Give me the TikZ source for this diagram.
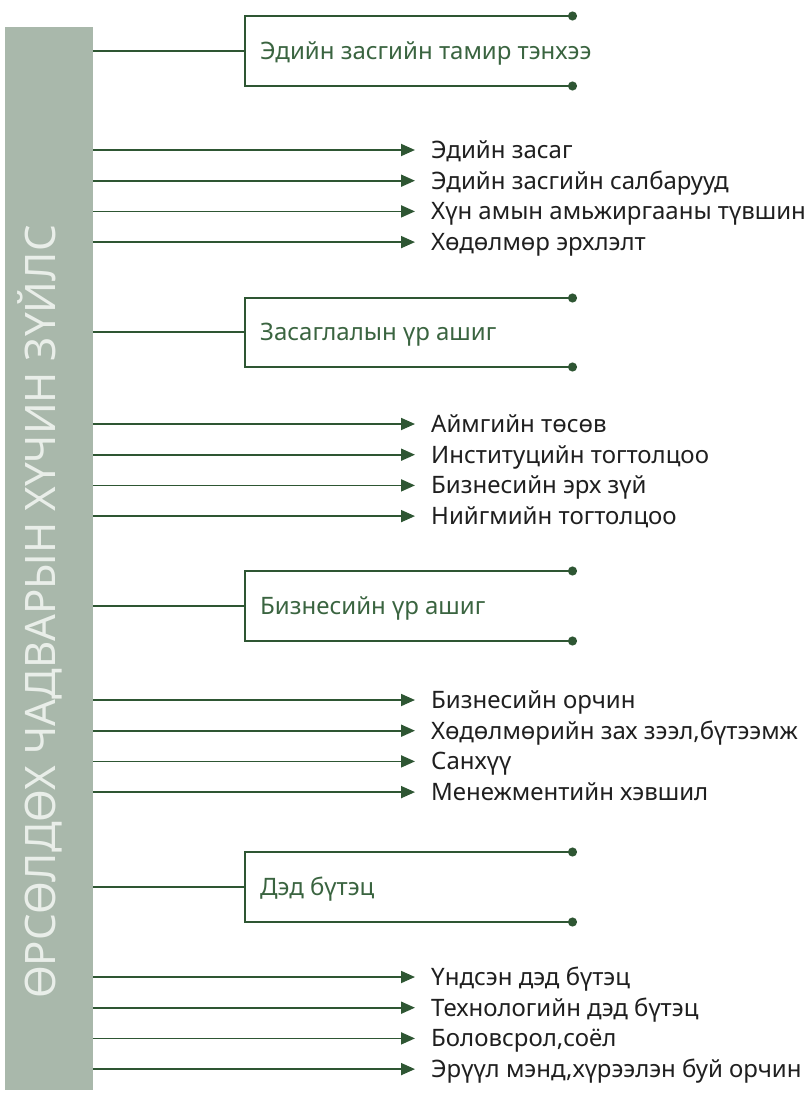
\documentclass[tikz,border=0pt]{standalone}
\usepackage{fontspec}
\setmainfont{Noto Sans}
\usepackage{xcolor}
\usepackage{tikz}
\usetikzlibrary{arrows.meta, positioning}
\definecolor{sage}{HTML}{A9B8AB}
\definecolor{darkgreen}{HTML}{2E5633}
\definecolor{headgreen}{HTML}{3A6440}
\definecolor{palegreen}{HTML}{E9EEE9}

\begin{document}
\begin{tikzpicture}[
    x=1pt, y=1pt,
    node distance=30.7pt,
    bar/.style={rectangle, fill=sage, minimum width=88pt, minimum height=1063pt, inner sep=0pt},
    bartext/.style={text=palegreen, font=\fontsize{42}{44}\selectfont, rotate=90, inner sep=0pt},
    head/.style={text=headgreen, font=\fontsize{24}{28}\selectfont, inner xsep=15pt, inner ysep=0pt, text height=17pt, text depth=0pt, anchor=west},
    item/.style={text=black!88, font=\fontsize{24}{28}\selectfont, inner xsep=16pt, inner ysep=0pt, text height=17pt, text depth=0pt, anchor=west},
    stem/.style={darkgreen, line width=2pt},
    arrow/.style={-{Triangle[length=14pt, width=12pt]}, darkgreen, line width=1.8pt},
    bracket/.style={{Circle[length=9pt]}-{Circle[length=9pt]}, darkgreen, line width=1.8pt}
]
    \useasboundingbox (0,0) rectangle (804,-1097);

    \node[bar] (bar) at (49,-558.5) {};
    \node[bartext, anchor=base] (title) at (55,-612) {ӨРСӨЛДӨХ ЧАДВАРЫН ХҮЧИН ЗҮЙЛС};

    \node[head] (econ) at (245,-51) {Эдийн засгийн тамир тэнхээ};
    \coordinate (econtop) at (577,-16);
    \coordinate (econbot) at (577,-86);
    \node[item] (econ1) at (415,-150) {Эдийн засаг};
    \node[item, below=of econ1.west, anchor=west] (econ2) {Эдийн засгийн салбарууд};
    \node[item, below=of econ2.west, anchor=west] (econ3) {Хүн амын амьжиргааны түвшин};
    \node[item, below=of econ3.west, anchor=west] (econ4) {Хөдөлмөр эрхлэлт};

    \node[head] (gov) at (245,-332) {Засаглалын үр ашиг};
    \coordinate (govtop) at (577,-298);
    \coordinate (govbot) at (577,-367);
    \node[item] (gov1) at (415,-424) {Аймгийн төсөв};
    \node[item, below=of gov1.west, anchor=west] (gov2) {Институцийн тогтолцоо};
    \node[item, below=of gov2.west, anchor=west] (gov3) {Бизнесийн эрх зүй};
    \node[item, below=of gov3.west, anchor=west] (gov4) {Нийгмийн тогтолцоо};

    \node[head] (biz) at (245,-606) {Бизнесийн үр ашиг};
    \coordinate (biztop) at (577,-571);
    \coordinate (bizbot) at (577,-641);
    \node[item] (biz1) at (415,-700) {Бизнесийн орчин};
    \node[item, below=of biz1.west, anchor=west] (biz2) {Хөдөлмөрийн зах зээл,бүтээмж};
    \node[item, below=of biz2.west, anchor=west] (biz3) {Санхүү};
    \node[item, below=of biz3.west, anchor=west] (biz4) {Менежментийн хэвшил};

    \node[head] (infra) at (245,-887) {Дэд бүтэц};
    \coordinate (infratop) at (577,-852);
    \coordinate (infrabot) at (577,-922);
    \node[item] (infra1) at (415,-977) {Үндсэн дэд бүтэц};
    \node[item, below=of infra1.west, anchor=west] (infra2) {Технологийн дэд бүтэц};
    \node[item, below=of infra2.west, anchor=west] (infra3) {Боловсрол,соёл};
    \node[item, below=of infra3.west, anchor=west] (infra4) {Эрүүл мэнд,хүрээлэн буй орчин};

    \draw[stem] (bar.east |- econ) -- (econ.west);
    \draw[bracket] (econtop) -| (econ.west) |- (econbot);
    \draw[arrow] (bar.east |- econ1) -- (econ1.west);
    \draw[arrow] (bar.east |- econ2) -- (econ2.west);
    \draw[arrow] (bar.east |- econ3) -- (econ3.west);
    \draw[arrow] (bar.east |- econ4) -- (econ4.west);

    \draw[stem] (bar.east |- gov) -- (gov.west);
    \draw[bracket] (govtop) -| (gov.west) |- (govbot);
    \draw[arrow] (bar.east |- gov1) -- (gov1.west);
    \draw[arrow] (bar.east |- gov2) -- (gov2.west);
    \draw[arrow] (bar.east |- gov3) -- (gov3.west);
    \draw[arrow] (bar.east |- gov4) -- (gov4.west);

    \draw[stem] (bar.east |- biz) -- (biz.west);
    \draw[bracket] (biztop) -| (biz.west) |- (bizbot);
    \draw[arrow] (bar.east |- biz1) -- (biz1.west);
    \draw[arrow] (bar.east |- biz2) -- (biz2.west);
    \draw[arrow] (bar.east |- biz3) -- (biz3.west);
    \draw[arrow] (bar.east |- biz4) -- (biz4.west);

    \draw[stem] (bar.east |- infra) -- (infra.west);
    \draw[bracket] (infratop) -| (infra.west) |- (infrabot);
    \draw[arrow] (bar.east |- infra1) -- (infra1.west);
    \draw[arrow] (bar.east |- infra2) -- (infra2.west);
    \draw[arrow] (bar.east |- infra3) -- (infra3.west);
    \draw[arrow] (bar.east |- infra4) -- (infra4.west);
\end{tikzpicture}
\end{document}
